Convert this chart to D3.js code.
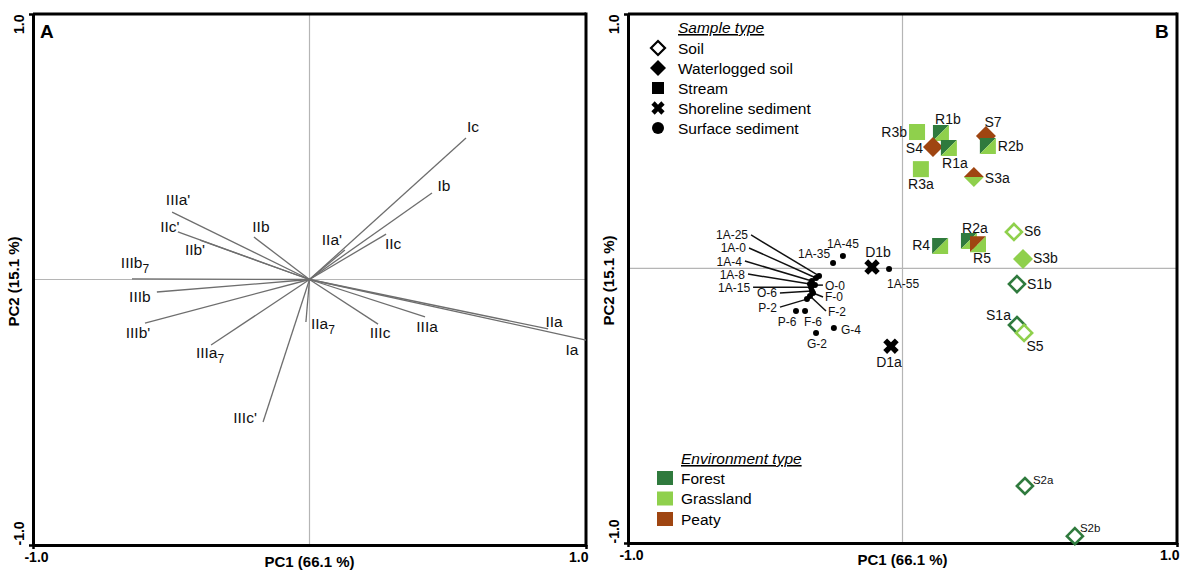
<!DOCTYPE html>
<html>
<head>
<meta charset="utf-8">
<script src="https://cdn.jsdelivr.net/npm/d3@7"></script>
<style>
body { margin: 0; background: #fff; }
text { font-family: "Liberation Sans", Arial, sans-serif; }
</style>
</head>
<body>
<script>
// ---- Panel A: variable loadings ----
var loadingNames = ["Ic", "Ib", "IIc", "IIa'", "IIa", "Ia", "IIIa", "IIIc", "IIa_7", "IIIc'", "IIIa_7", "IIIb'", "IIIb", "IIIb_7", "IIc'", "IIb'", "IIIa'", "IIb"];
var loadingPC1 = [0.566, 0.443, 0.277, 0.128, 0.863, 1.0, 0.418, 0.248, -0.013, -0.168, -0.356, -0.595, -0.552, -0.642, -0.476, -0.396, -0.497, -0.201];
var loadingPC2 = [0.533, 0.326, 0.171, 0.111, -0.186, -0.228, -0.141, -0.168, -0.160, -0.537, -0.247, -0.164, -0.047, 0.002, 0.179, 0.148, 0.254, 0.160];

// ---- Panel B: sample scores ----
var sampleNames = ["R3b", "R1b", "S4", "R1a", "S7", "R2b", "R3a", "S3a", "R2a", "R5", "R4", "S6", "S3b", "S1b", "S1a", "S5", "S2a", "S2b",
    "D1b", "D1a", "1A-55", "1A-45", "1A-35", "1A-25", "1A-0", "1A-4", "1A-8", "1A-15", "O-0", "O-6", "F-0", "F-2", "P-2", "P-6", "F-6", "G-4", "G-2"];
var samplePC1 = [0.053, 0.140, 0.111, 0.169, 0.304, 0.311, 0.067, 0.260, 0.242, 0.275, 0.137, 0.406, 0.439, 0.417, 0.417, 0.443, 0.446, 0.628,
    -0.111, -0.042, -0.049, -0.217, -0.253, -0.304, -0.315, -0.330, -0.337, -0.333, -0.319, -0.330, -0.326, -0.337, -0.348, -0.388, -0.355, -0.250, -0.315];
var samplePC2 = [0.536, 0.532, 0.477, 0.473, 0.520, 0.481, 0.390, 0.359, 0.107, 0.095, 0.088, 0.143, 0.037, -0.062, -0.223, -0.254, -0.856, -1.053,
    0.005, -0.306, -0.003, 0.048, 0.021, -0.030, -0.038, -0.050, -0.062, -0.074, -0.066, -0.089, -0.097, -0.109, -0.121, -0.168, -0.168, -0.235, -0.254];
var sampleTypes = ["stream", "stream", "waterlogged", "stream", "waterlogged", "stream", "stream", "waterlogged", "stream", "stream", "stream",
    "soil", "waterlogged", "soil", "soil", "soil", "soil", "soil",
    "shoreline", "shoreline", "surface", "surface", "surface", "surface", "surface", "surface", "surface", "surface", "surface", "surface",
    "surface", "surface", "surface", "surface", "surface", "surface", "surface"];
var sampleEnv = ["grassland", "forest|grassland", "peaty", "forest|grassland", "peaty", "forest|grassland", "grassland", "peaty|grassland",
    "forest|grassland", "peaty|grassland", "forest|grassland", "grassland", "grassland", "forest", "forest", "grassland", "forest", "forest",
    "", "", "", "", "", "", "", "", "", "", "", "", "", "", "", "", "", "", ""];

var sampleTypeKeys = ["soil", "waterlogged", "stream", "shoreline", "surface"];
var sampleTypeLabels = ["Soil", "Waterlogged soil", "Stream", "Shoreline sediment", "Surface sediment"];
var envKeys = ["forest", "grassland", "peaty"];
var envLabels = ["Forest", "Grassland", "Peaty"];
var axisTickLabels = ["-1.0", "1.0"];

var envColor = { forest: "#2f7a3d", grassland: "#8fd04c", peaty: "#9f4511" };

// label placement (pixels relative to the mark)
var loadingLabelPos = {
    "Ic": [7, -11], "Ib": [12, -7], "IIc": [7, 10], "IIa'": [-13, -10], "IIa": [6, -7], "Ia": [-14, 10],
    "IIIa": [2, 10], "IIIc": [2, 9], "IIa_7": [17, 2], "IIIc'": [-18, -4], "IIIa_7": [-1, 8], "IIIb'": [-7, 10],
    "IIIb": [-17, 5], "IIIb_7": [3, -16], "IIc'": [-8, -5], "IIb'": [-5, 10], "IIIa'": [6, -12], "IIb": [7, -10]
};
// [dx, dy(center), anchor, leader line]
var sampleLabelPos = {
    "R3b": [-10, 0, "end"], "R1b": [7, -14, "middle"], "S4": [-10, 1, "end"], "R1a": [6, 15, "middle"],
    "S7": [7, -14, "middle"], "R2b": [10, 1, "start"], "R3a": [0, 15, "middle"], "S3a": [11, 1, "start"],
    "R2a": [6, -13, "middle"], "R5": [4, 14, "middle"], "R4": [-10, 0, "end"], "S6": [10, 0, "start"],
    "S3b": [10, 0, "start"], "S1b": [10, 0, "start"], "S1a": [-6, -10, "end"], "S5": [11, 14, "middle"],
    "S2a": [8, -7, "start"], "S2b": [5, -9, "start"], "D1b": [6, -15, "middle"], "D1a": [-2, 16, "middle"],
    "1A-55": [14, 14, "middle"], "1A-45": [0, -13, "middle"], "1A-35": [-19, -9, "middle"],
    "1A-25": [-71, -41, "end", true], "1A-0": [-70, -30, "end", true], "1A-4": [-70, -20, "end", true],
    "1A-8": [-65, -10, "end", true], "1A-15": [-61, 0, "end", true], "O-0": [10, 0, "start", true],
    "O-6": [-35, 2, "end", true], "F-0": [12, 4, "start", true], "F-2": [18, 15, "start", true],
    "P-2": [-30, 8, "end", true], "P-6": [-9, 10, "middle"], "F-6": [8, 10, "middle"], "G-4": [7, 1, "start"],
    "G-2": [1, 11, "middle"]
};

var W = 1193, H = 573;
var svg = d3.select("body").append("svg")
    .attr("width", W)
    .attr("height", H);

// Scales
var xA = d3.scaleLinear().domain([-1, 1]).range([33, 586]);
var yA = d3.scaleLinear().domain([-1, 1]).range([545, 14]);
var xB = d3.scaleLinear().domain([-1, 1]).range([628, 1177]);
var yB = d3.scaleLinear().domain([-1.08, 1]).range([543, 14]);

// draw a panel frame, zero lines, axis ticks and titles
function drawFrame(x, y, letter, letterX) {
    var g = svg.append("g");
    // zero lines
    g.append("line").attr("x1", x(0)).attr("x2", x(0)).attr("y1", y.range()[1]).attr("y2", y.range()[0])
        .attr("stroke", "#b5b5b5").attr("stroke-width", 1.2);
    g.append("line").attr("x1", x.range()[0]).attr("x2", x.range()[1]).attr("y1", y(0)).attr("y2", y(0))
        .attr("stroke", "#b5b5b5").attr("stroke-width", 1.2);

    var xAxis = g.append("g")
        .attr("transform", "translate(0," + y.range()[0] + ")")
        .call(d3.axisBottom(x).tickValues(x.domain()).tickSize(4).tickSizeOuter(0)
            .tickFormat(function(d, i) { return axisTickLabels[i]; }));
    var yAxis = g.append("g")
        .attr("transform", "translate(" + x.range()[0] + ",0)")
        .call(d3.axisLeft(y).tickValues(y.domain()).tickSize(4).tickSizeOuter(0)
            .tickFormat(function(d, i) { return axisTickLabels[i]; }));
    [xAxis, yAxis].forEach(function(a) {
        a.select(".domain").attr("stroke-width", 3);
        a.selectAll(".tick line").attr("stroke-width", 2.5);
        a.selectAll(".tick text").style("font-size", "14px").style("font-weight", "bold")
            .attr("fill", "#000").style("font-family", "'Liberation Sans', Arial, sans-serif");
    });
    xAxis.selectAll(".tick text").attr("dy", "0.9em").attr("y", 4);
    xAxis.selectAll(".tick text").filter(function(d, i) { return i === 1; }).attr("text-anchor", "end").attr("dx", 2);
    xAxis.selectAll(".tick text").filter(function(d, i) { return i === 0; }).attr("dx", 3);
    yAxis.selectAll(".tick text")
        .attr("x", 0).attr("dy", 0)
        .attr("text-anchor", function(d, i) { return i === 0 ? "start" : "end"; })
        .attr("transform", "translate(-9,0) rotate(-90)");

    // top and right frame lines
    g.append("line").attr("x1", x.range()[0]).attr("x2", x.range()[1]).attr("y1", y.range()[1]).attr("y2", y.range()[1])
        .attr("stroke", "#000").attr("stroke-width", 3);
    g.append("line").attr("x1", x.range()[1]).attr("x2", x.range()[1]).attr("y1", y.range()[1] - 1.5).attr("y2", y.range()[0] + 1.5)
        .attr("stroke", "#000").attr("stroke-width", 3);

    // axis titles
    g.append("text")
        .attr("x", x(0)).attr("y", y.range()[0] + 22)
        .attr("text-anchor", "middle")
        .style("font-size", "15px").style("font-weight", "bold")
        .text("PC1 (66.1 %)");
    g.append("text")
        .attr("transform", "translate(" + (x.range()[0] - 14) + "," + ((y.range()[0] + y.range()[1]) / 2 + 2) + ") rotate(-90)")
        .attr("text-anchor", "middle")
        .style("font-size", "15px").style("font-weight", "bold")
        .text("PC2 (15.1 %)");
    g.append("text")
        .attr("x", letterX).attr("y", y.range()[1] + 24)
        .style("font-size", "19px").style("font-weight", "bold")
        .text(letter);
}

drawFrame(xA, yA, "A", 40);
drawFrame(xB, yB, "B", 1155);

// ---- Panel A: vectors ----
var loadings = loadingNames.map(function(n, i) { return { name: n, pc1: loadingPC1[i], pc2: loadingPC2[i] }; });
var gA = svg.append("g");
gA.selectAll(".vec")
    .data(loadings)
    .enter().append("line")
    .attr("class", "vec")
    .attr("x1", xA(0)).attr("y1", yA(0))
    .attr("x2", function(d) { return xA(d.pc1); })
    .attr("y2", function(d) { return yA(d.pc2); })
    .attr("stroke", "#6e6e6e")
    .attr("stroke-width", 1.3);

var vecLabels = gA.selectAll(".vlab")
    .data(loadings)
    .enter().append("text")
    .attr("class", "vlab")
    .attr("x", function(d) { return xA(d.pc1) + loadingLabelPos[d.name][0]; })
    .attr("y", function(d) { return yA(d.pc2) + loadingLabelPos[d.name][1] + 5; })
    .attr("text-anchor", "middle")
    .style("font-size", "15.5px")
    .attr("fill", "#111");
vecLabels.each(function(d) {
    var parts = d.name.split("_");
    var t = d3.select(this);
    t.append("tspan").text(parts[0]);
    if (parts.length > 1) {
        t.append("tspan").attr("dy", 5).style("font-size", "12px").text(parts[1]);
    }
});

// ---- Panel B: samples ----
var samples = sampleNames.map(function(n, i) {
    return { name: n, pc1: samplePC1[i], pc2: samplePC2[i], type: sampleTypes[i], env: sampleEnv[i] };
});

var DH = 9;   // diamond half-diagonal
var SQ = 16;  // square side
function diamondPath(h) { return "M0," + (-h) + "L" + h + ",0L0," + h + "L" + (-h) + ",0Z"; }

function drawMarker(g, type, env, legend) {
    var cols = env ? env.split("|").map(function(e) { return envColor[e]; }) : ["#000"];
    if (legend) cols = ["#000"];
    if (type === "soil") {
        var h = legend ? 7 : DH - 1;
        g.append("path").attr("d", diamondPath(h)).attr("fill", "#fff")
            .attr("stroke", cols[0]).attr("stroke-width", legend ? 2.2 : 2.6);
    } else if (type === "waterlogged") {
        var h2 = legend ? 8 : DH + 1;
        if (cols.length > 1) {
            g.append("path").attr("d", "M" + (-h2) + ",0L0," + (-h2) + "L" + h2 + ",0Z").attr("fill", cols[0]);
            g.append("path").attr("d", "M" + (-h2) + ",0L0," + h2 + "L" + h2 + ",0Z").attr("fill", cols[1]);
        } else {
            g.append("path").attr("d", diamondPath(h2)).attr("fill", cols[0]);
        }
    } else if (type === "stream") {
        var s = (legend ? 12 : SQ) / 2;
        if (cols.length > 1) {
            g.append("path").attr("d", "M" + (-s) + "," + (-s) + "L" + s + "," + (-s) + "L" + (-s) + "," + s + "Z").attr("fill", cols[0]);
            g.append("path").attr("d", "M" + s + "," + (-s) + "L" + s + "," + s + "L" + (-s) + "," + s + "Z").attr("fill", cols[1]);
        } else {
            g.append("rect").attr("x", -s).attr("y", -s).attr("width", 2 * s).attr("height", 2 * s).attr("fill", cols[0]);
        }
    } else if (type === "shoreline") {
        g.append("path")
            .attr("d", d3.symbol().type(d3.symbolCross).size(legend ? 110 : 150)())
            .attr("transform", "rotate(45)")
            .attr("fill", "#000");
    } else {
        g.append("circle").attr("r", legend ? 6 : 3).attr("fill", "#000");
    }
}

var gB = svg.append("g");

// leader lines for the crowded cluster
gB.selectAll(".leader")
    .data(samples.filter(function(d) { return sampleLabelPos[d.name][3]; }))
    .enter().append("line")
    .attr("class", "leader")
    .attr("x1", function(d) { return xB(d.pc1); })
    .attr("y1", function(d) { return yB(d.pc2); })
    .attr("x2", function(d) {
        var p = sampleLabelPos[d.name];
        return xB(d.pc1) + p[0] + (p[2] === "end" ? 3 : -2);
    })
    .attr("y2", function(d) { return yB(d.pc2) + sampleLabelPos[d.name][1]; })
    .attr("stroke", "#111")
    .attr("stroke-width", 1.5);

samples.forEach(function(d) {
    var g = gB.append("g").attr("transform", "translate(" + xB(d.pc1) + "," + yB(d.pc2) + ")");
    drawMarker(g, d.type, d.env, false);
});

gB.selectAll(".slab")
    .data(samples)
    .enter().append("text")
    .attr("class", "slab")
    .attr("x", function(d) { return xB(d.pc1) + sampleLabelPos[d.name][0]; })
    .attr("y", function(d) { return yB(d.pc2) + sampleLabelPos[d.name][1] + 4.5; })
    .attr("text-anchor", function(d) { return sampleLabelPos[d.name][2]; })
    .style("font-size", function(d) {
        if (d.name === "S2a" || d.name === "S2b") return "11.5px";
        return d.type === "surface" ? "12px" : "14px";
    })
    .attr("fill", "#111")
    .text(function(d) { return d.name; });

// ---- Legends ----
var legS = svg.append("g").attr("transform", "translate(658,0)");
legS.append("text").attr("x", 20).attr("y", 33)
    .style("font-size", "15.5px").style("font-style", "italic").style("text-decoration", "underline")
    .text("Sample type");
sampleTypeKeys.forEach(function(k, i) {
    var cy = 48 + i * 20;
    var g = legS.append("g").attr("transform", "translate(0," + cy + ")");
    drawMarker(g, k, "", true);
    legS.append("text").attr("x", 20).attr("y", cy + 5.5).style("font-size", "15.5px").text(sampleTypeLabels[i]);
});

var legE = svg.append("g").attr("transform", "translate(657,0)");
legE.append("text").attr("x", 24).attr("y", 464)
    .style("font-size", "15.5px").style("font-style", "italic").style("text-decoration", "underline")
    .text("Environment type");
envKeys.forEach(function(k, i) {
    var cy = 478 + i * 20.5;
    legE.append("rect").attr("x", 0).attr("y", cy - 7).attr("width", 16).attr("height", 14).attr("fill", envColor[k]);
    legE.append("text").attr("x", 24).attr("y", cy + 5.5).style("font-size", "15.5px").text(envLabels[i]);
});
</script>
</body>
</html>
